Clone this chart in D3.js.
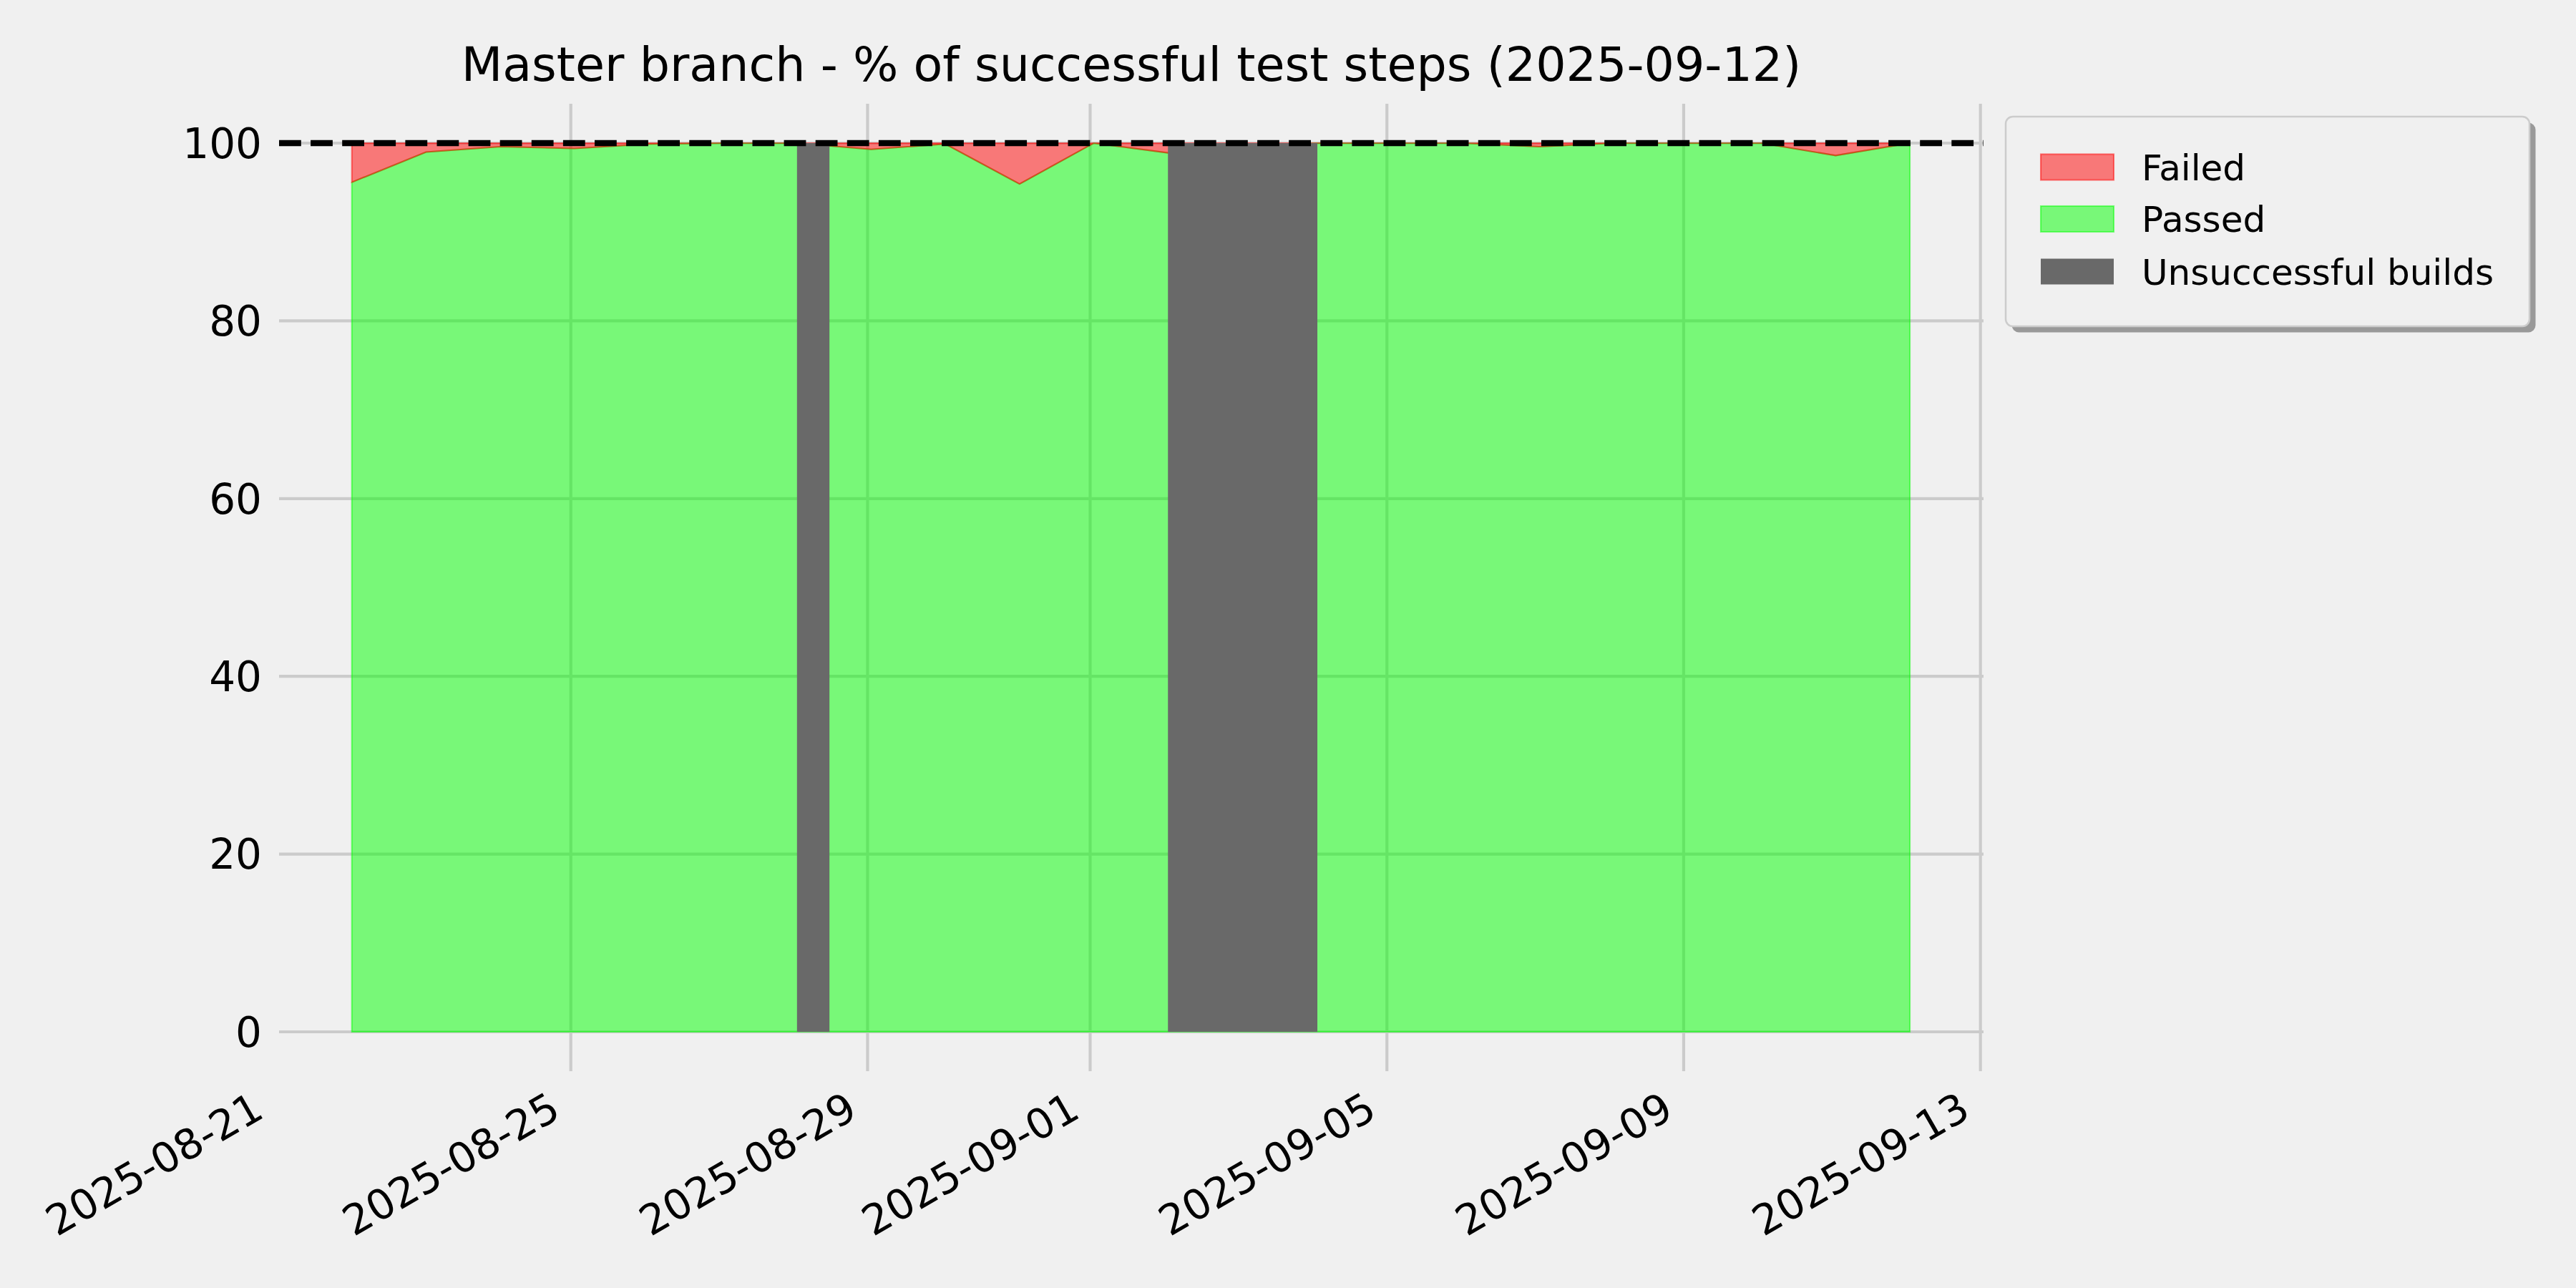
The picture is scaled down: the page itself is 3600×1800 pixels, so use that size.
<!DOCTYPE html>
<html>
<head>
<meta charset="utf-8">
<script src="https://cdn.jsdelivr.net/npm/d3@7"></script>
<style>
  html, body { margin: 0; padding: 0; background: #f0f0f0; }
  svg { display: block; }
  text { font-family: "DejaVu Sans", sans-serif; fill: #000; }
</style>
</head>
<body>
<script>
// ---------------- data ----------------
const title = "Master branch - % of successful test steps (2025-09-12)";
const dates = [
  "2025-08-22T01:10", "2025-08-23T01:10", "2025-08-24T01:10", "2025-08-25T01:10",
  "2025-08-26T01:10", "2025-08-27T01:10", "2025-08-28T01:10", "2025-08-29T01:10",
  "2025-08-30T01:10", "2025-08-31T01:10", "2025-09-01T01:10", "2025-09-02T01:10",
  "2025-09-04T01:10", "2025-09-05T01:10", "2025-09-06T01:10", "2025-09-07T01:10",
  "2025-09-08T01:10", "2025-09-09T01:10", "2025-09-10T01:10", "2025-09-11T01:10",
  "2025-09-12T01:10"
];
const passedPct = [
  95.6, 99.0, 99.6, 99.4,
  99.9, 100, 100, 99.3,
  99.9, 95.4, 100, 98.9,
  100, 100, 100, 99.6,
  100, 100, 100, 98.6,
  100
];
const unsuccessfulStart = ["2025-08-28T01:10", "2025-09-02T01:10"];
const unsuccessfulEnd   = ["2025-08-28T11:40", "2025-09-04T01:30"];
const xTickLabels = ["2025-08-21", "2025-08-25", "2025-08-29", "2025-09-01", "2025-09-05", "2025-09-09", "2025-09-13"];
const yTickValues = [0, 20, 40, 60, 80, 100];
const legendLabels = ["Failed", "Passed", "Unsuccessful builds"];
const xDomain = ["2025-08-21", "2025-09-13"];
const yDomain = [0, 100];
const targetLine = 100;

// ---------------- layout ----------------
const W = 3600, H = 1800;
const axL = 390, axR = 2772, axT = 145, axB = 1497;
const parseT = d3.timeParse("%Y-%m-%dT%H:%M");
const parseD = d3.timeParse("%Y-%m-%d");

const x = d3.scaleTime().domain(xDomain.map(parseD)).range([383, 2767.7]);
const y = d3.scaleLinear().domain(yDomain).range([1442, 200]);

const data = dates.map((d, i) => ({ t: parseT(d), p: passedPct[i] }));

const svg = d3.select("body").append("svg").attr("width", W).attr("height", H);
svg.append("rect").attr("width", W).attr("height", H).attr("fill", "#f0f0f0");

svg.append("defs").append("clipPath").attr("id", "axclip")
  .append("rect").attr("x", axL).attr("y", axT).attr("width", axR - axL).attr("height", axB - axT);

// grid
const grid = svg.append("g").attr("clip-path", "url(#axclip)");
grid.selectAll("line.h").data(yTickValues).join("line")
  .attr("x1", axL).attr("x2", axR)
  .attr("y1", d => y(d)).attr("y2", d => y(d))
  .attr("stroke", "#cbcbcb").attr("stroke-width", 4.17);
grid.selectAll("line.v").data(xTickLabels.map(parseD)).join("line")
  .attr("x1", d => x(d)).attr("x2", d => x(d))
  .attr("y1", axT).attr("y2", axB)
  .attr("stroke", "#cbcbcb").attr("stroke-width", 4.17);

// areas
const plot = svg.append("g").attr("clip-path", "url(#axclip)");
const passedArea = d3.area().x(d => x(d.t)).y0(y(0)).y1(d => y(d.p));
const failedArea = d3.area().x(d => x(d.t)).y0(d => y(d.p)).y1(y(100));

plot.append("path").datum(data).attr("d", passedArea)
  .attr("fill", "#00ff00").attr("fill-opacity", 0.5)
  .attr("stroke", "#00ff00").attr("stroke-opacity", 0.5).attr("stroke-width", 2.1)
  .attr("stroke-linejoin", "miter");
plot.append("path").datum(data).attr("d", failedArea)
  .attr("fill", "#ff0000").attr("fill-opacity", 0.5)
  .attr("stroke", "#ff0000").attr("stroke-opacity", 0.5).attr("stroke-width", 2.1)
  .attr("stroke-linejoin", "miter");

// unsuccessful builds
plot.selectAll("rect.unsucc").data(unsuccessfulStart.map((s, i) => [parseT(s), parseT(unsuccessfulEnd[i])]))
  .join("rect")
  .attr("x", d => x(d[0])).attr("width", d => x(d[1]) - x(d[0]))
  .attr("y", y(100)).attr("height", y(0) - y(100))
  .attr("fill", "#696969");

// dashed 100% line
plot.append("line")
  .attr("x1", axL).attr("x2", axR)
  .attr("y1", y(targetLine)).attr("y2", y(targetLine))
  .attr("stroke", "#000").attr("stroke-width", 8.33)
  .attr("stroke-dasharray", "30.8,13.3");

// y axis labels
const yAxis = d3.axisLeft(y).tickValues(yTickValues).tickSize(0).tickPadding(0);
const gy = svg.append("g").attr("transform", `translate(366,0)`).call(yAxis);
gy.select(".domain").remove();
gy.selectAll("text").attr("font-size", 58).attr("font-family", "DejaVu Sans")
  .attr("x", 0).attr("dy", "0.35em").attr("text-anchor", "end").attr("fill", "#000");

// x axis labels
const xAxis = d3.axisBottom(x).tickValues(xTickLabels.map(parseD))
  .tickFormat(d3.timeFormat("%Y-%m-%d")).tickSize(0);
const gx = svg.append("g").call(xAxis);
gx.select(".domain").remove();
gx.selectAll("text")
  .attr("font-size", 58).attr("font-family", "DejaVu Sans").attr("fill", "#000")
  .attr("text-anchor", "end").attr("x", 0).attr("y", 0).attr("dy", 0)
  .attr("transform", "translate(-12,1560) rotate(-30)");

// title
svg.append("text").attr("x", (axL + axR) / 2).attr("y", 112.7)
  .attr("text-anchor", "middle").attr("font-size", 66.7).text(title);

// legend
const lg = svg.append("g");
const lx = 2803, ly = 163, lw = 732, lh = 293;
lg.append("rect").attr("x", lx + 8.5).attr("y", ly + 8.5).attr("width", lw).attr("height", lh)
  .attr("rx", 10).attr("fill", "#999999");
lg.append("rect").attr("x", lx).attr("y", ly).attr("width", lw).attr("height", lh)
  .attr("rx", 10).attr("fill", "#f0f0f0").attr("stroke", "#cccccc").attr("stroke-width", 2.5);
const legStyles = [
  { fill: "#ff0000", op: 0.5, stroke: "#ff0000" },
  { fill: "#00ff00", op: 0.5, stroke: "#00ff00" },
  { fill: "#696969", op: 1, stroke: "none" }
];
const rowBaselines = [251.5, 324, 397.5];
legendLabels.forEach((lab, i) => {
  const s = legStyles[i];
  lg.append("rect").attr("x", 2852).attr("y", rowBaselines[i] - 36).attr("width", 102).attr("height", 36)
    .attr("fill", s.fill).attr("fill-opacity", s.op)
    .attr("stroke", s.stroke).attr("stroke-opacity", 0.5).attr("stroke-width", 2.1);
  lg.append("text").attr("x", 2993).attr("y", rowBaselines[i]).attr("font-size", 50).text(lab);
});
</script>
</body>
</html>
